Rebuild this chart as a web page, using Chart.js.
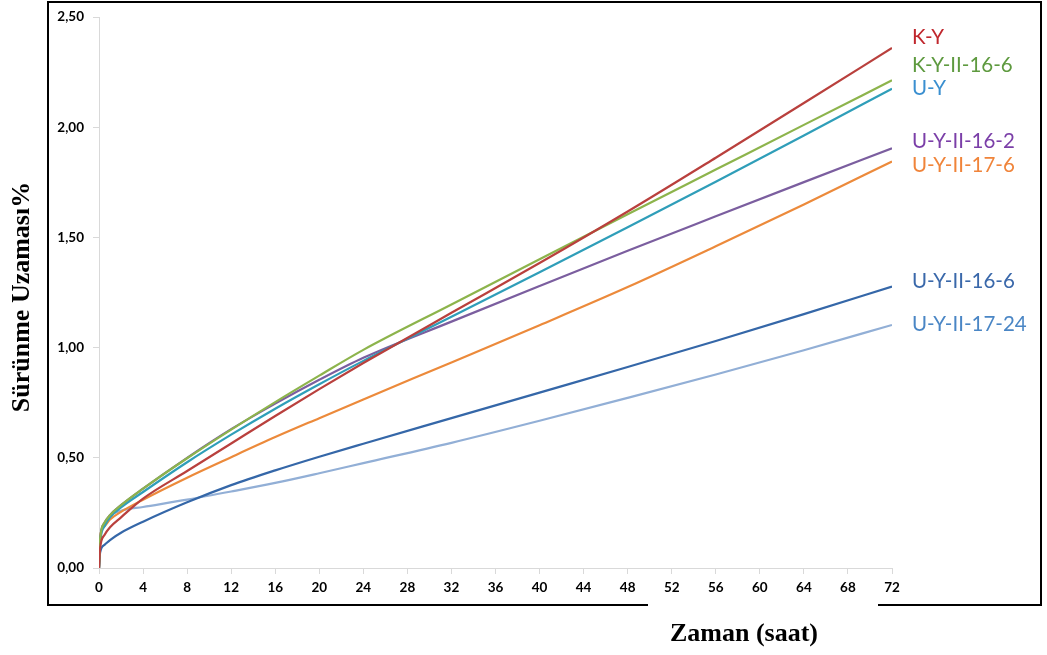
<!DOCTYPE html>
<html>
<head>
<meta charset="utf-8">
<script src="https://cdn.jsdelivr.net/npm/chart.js@4.4.1/dist/chart.umd.min.js"></script>
<style>
  html, body { margin: 0; padding: 0; background: #fff; }
</style>
</head>
<body>
<canvas id="creepChart" width="1047" height="655"></canvas>
<script>
// time axis (saat)
const hours = [0, 0.1, 0.5, 1, 2, 4, 8, 12, 16, 20, 24, 32, 40, 48, 56, 64, 72];
const xTicks = [0, 4, 8, 12, 16, 20, 24, 28, 32, 36, 40, 44, 48, 52, 56, 60, 64, 68, 72];

const seriesNames = ['K-Y', 'K-Y-II-16-6', 'U-Y', 'U-Y-II-16-2', 'U-Y-II-17-6', 'U-Y-II-16-6', 'U-Y-II-17-24'];

// creep strain values (%)
const kY        = [0, 0.09, 0.15, 0.185, 0.23, 0.315, 0.44, 0.565, 0.69, 0.812, 0.93, 1.158, 1.384, 1.618, 1.862, 2.11, 2.36];
const kY_16_6   = [0, 0.13, 0.205, 0.24, 0.285, 0.36, 0.498, 0.628, 0.753, 0.873, 0.99, 1.196, 1.401, 1.605, 1.808, 2.011, 2.213];
const uY        = [0, 0.12, 0.19, 0.23, 0.275, 0.345, 0.48, 0.605, 0.723, 0.834, 0.94, 1.14, 1.342, 1.546, 1.753, 1.963, 2.175];
const uY_16_2   = [0, 0.13, 0.205, 0.24, 0.285, 0.36, 0.50, 0.63, 0.746, 0.854, 0.954, 1.118, 1.28, 1.44, 1.596, 1.751, 1.905];
const uY_17_6   = [0, 0.14, 0.19, 0.22, 0.255, 0.31, 0.41, 0.503, 0.594, 0.68, 0.765, 0.933, 1.102, 1.275, 1.46, 1.65, 1.845];
const uY_16_6   = [0, 0.07, 0.105, 0.127, 0.16, 0.21, 0.298, 0.376, 0.443, 0.505, 0.564, 0.68, 0.796, 0.912, 1.03, 1.152, 1.277];
const uY_17_24  = [0, 0.11, 0.19, 0.235, 0.26, 0.277, 0.31, 0.347, 0.386, 0.43, 0.476, 0.568, 0.668, 0.772, 0.878, 0.988, 1.103];

const allSeries = [kY, kY_16_6, uY, uY_16_2, uY_17_6, uY_16_6, uY_17_24];

const lineColors  = ['#B9403D', '#8DB44C', '#2F9EB9', '#7B5E9F', '#EC8A3B', '#3567A8', '#92AFD6'];
const labelColors = ['#C0272D', '#5E9A3F', '#3A8FD0', '#7B3FA8', '#F0843A', '#3A68AA', '#4A86C5'];
const labelNudge  = [-4, -8, 6, 0, 11, 1, 6];   // px, from line end to text baseline

const datasets = seriesNames.map((name, i) => ({
    label: name,
    data: hours.map((h, j) => ({ x: h, y: allSeries[i][j] })),
    borderColor: lineColors[i],
    borderWidth: 2.2,
    pointRadius: 0,
    fill: false,
    cubicInterpolationMode: 'monotone'
}));

const fmtComma = v => v.toFixed(2).replace('.', ',');

// frame, axis titles and end labels
const decorations = {
    id: 'decorations',
    afterDraw(chart) {
        const ctx = chart.ctx;
        const y = chart.scales.y;
        const area = chart.chartArea;
        ctx.save();

        // outer frame (bottom edge has a gap in the original)
        ctx.strokeStyle = '#000';
        ctx.lineWidth = 2;
        ctx.beginPath();
        ctx.moveTo(648, 605); ctx.lineTo(48, 605); ctx.lineTo(48, 2);
        ctx.lineTo(1041, 2); ctx.lineTo(1041, 605); ctx.lineTo(878, 605);
        ctx.stroke();

        // axis titles
        ctx.fillStyle = '#000';
        ctx.font = 'bold 26px "Liberation Serif", "Times New Roman", serif';
        ctx.textAlign = 'center';
        ctx.textBaseline = 'middle';
        ctx.fillText('Zaman (saat)', 744, 634);
        ctx.save();
        ctx.translate(22, 297);
        ctx.rotate(-Math.PI / 2);
        ctx.fillText('Sürünme Uzaması%', 0, 0);
        ctx.restore();

        // series labels at the right
        ctx.font = '20.5px Lato, "Open Sans", sans-serif';
        ctx.textAlign = 'left';
        ctx.textBaseline = 'alphabetic';
        seriesNames.forEach((name, i) => {
            const last = allSeries[i][allSeries[i].length - 1];
            ctx.fillStyle = labelColors[i];
            ctx.fillText(name, area.right + 20, y.getPixelForValue(last) + labelNudge[i]);
        });
        ctx.restore();
    }
};

const tickFont = { family: 'Lato, "Open Sans", sans-serif', size: 13.5, weight: 'bold' };

new Chart(document.getElementById('creepChart').getContext('2d'), {
    type: 'line',
    data: { datasets: datasets },
    options: {
        responsive: false,
        animation: false,
        layout: { padding: { top: 17, right: 155, left: 0, bottom: 0 } },
        plugins: {
            legend: { display: false },
            tooltip: { enabled: false }
        },
        scales: {
            x: {
                type: 'linear',
                min: 0,
                max: 72,
                afterBuildTicks: scale => { scale.ticks = xTicks.map(v => ({ value: v })); },
                afterFit: scale => { scale.height = 87; },
                grid: { drawOnChartArea: false, drawTicks: true, tickLength: 6, color: '#D9D9D9' },
                border: { display: true, color: '#D9D9D9', width: 1 },
                ticks: { color: '#000', padding: 6, maxRotation: 0, font: tickFont }
            },
            y: {
                min: 0,
                max: 2.5,
                afterFit: scale => { scale.width = 99; },
                grid: { drawOnChartArea: false, drawTicks: true, tickLength: 6, color: '#D9D9D9' },
                border: { display: true, color: '#D9D9D9', width: 1 },
                ticks: {
                    stepSize: 0.5,
                    color: '#000',
                    padding: 9,
                    callback: v => fmtComma(v),
                    font: tickFont
                }
            }
        }
    },
    plugins: [decorations]
});
</script>
</body>
</html>
